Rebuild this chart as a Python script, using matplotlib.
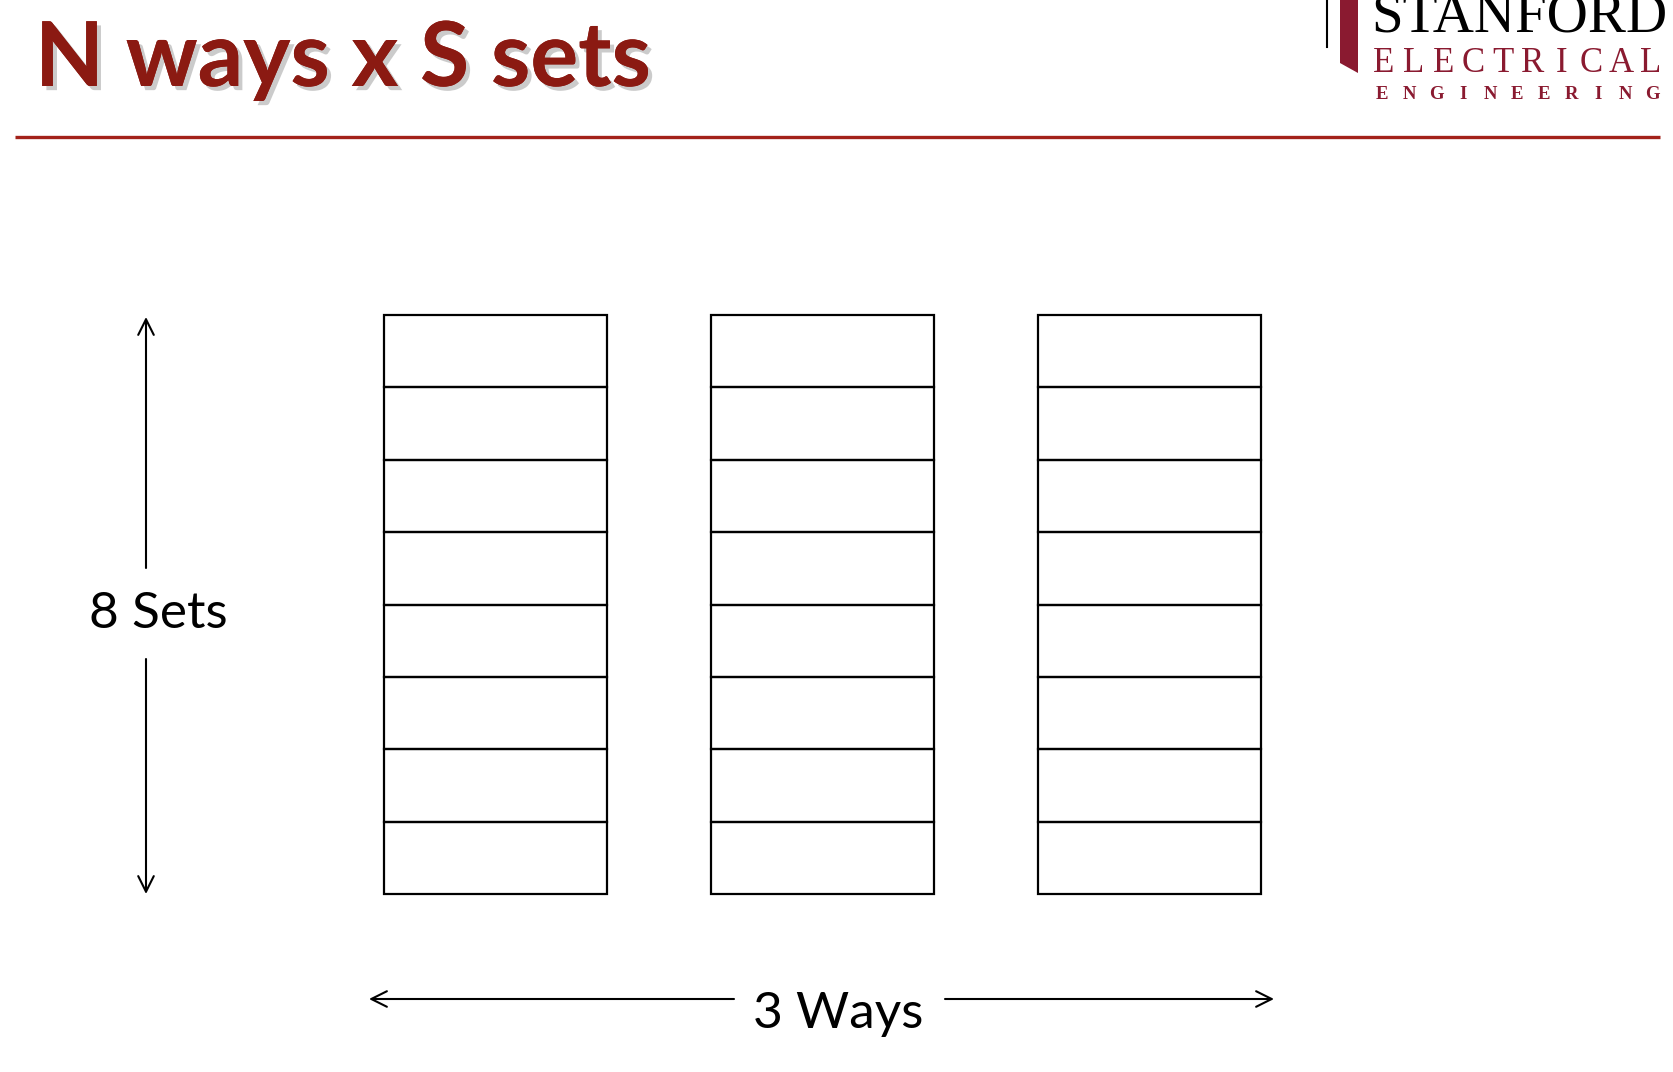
import matplotlib.pyplot as plt
import matplotlib.patheffects as pe
from matplotlib.patches import Rectangle, Polygon

# diagram content
title = "N ways x S sets"
n_ways = 3
n_sets = 8
logo_words = ["STANFORD", "ELECTRICAL", "ENGINEERING"]

W, H = 1674, 1072
fig = plt.figure(figsize=(W / 100, H / 100), dpi=100)
ax = fig.add_axes([0, 0, 1, 1])
ax.set_xlim(0, W)
ax.set_ylim(H, 0)
ax.axis("off")

red = "#8b1a12"
cardinal = "#8a1a30"

# title with soft shadow
ax.text(35, 86, title, fontsize=64.5, fontweight="bold", family="Lato", color=red,
        ha="left", va="baseline",
        path_effects=[pe.withSimplePatchShadow(offset=(3, -3), shadow_rgbFace="#999999", alpha=0.5),
                      pe.Normal()])
ax.plot([15, 1660], [137, 137], color="#a3221a", lw=2.4, solid_capstyle="butt")

# logo
ax.plot([1327, 1327], [0, 47], color="black", lw=1.5)
ax.add_patch(Polygon([[1340, 0], [1358, 0], [1358, 73], [1340, 63]], closed=True,
                     facecolor=cardinal, edgecolor="none"))
ax.text(1371, 31, logo_words[0], fontsize=41, family="Liberation Serif", color="black",
        ha="left", va="baseline")


def spaced(word, x0, x1, y, size, color, weight="normal"):
    step = (x1 - x0) / (len(word) - 1)
    for i, ch in enumerate(word):
        ax.text(x0 + i * step, y, ch, fontsize=size, family="Liberation Serif",
                color=color, ha="center", va="baseline", fontweight=weight)


spaced(logo_words[1], 1384, 1651, 72, 25, cardinal)
spaced(logo_words[2], 1382, 1652, 99, 13.5, cardinal, "bold")

# cache ways x sets grid
x_start, col_w, col_gap = 384, 223, 104
y_top, y_bot = 315, 894
row_h = (y_bot - y_top) / n_sets
for w in range(n_ways):
    x = x_start + w * (col_w + col_gap)
    for s in range(n_sets):
        ax.add_patch(Rectangle((x, y_top + s * row_h), col_w, row_h, fill=False,
                               edgecolor="black", lw=1.6))

arrow = dict(arrowstyle="->", color="black", lw=1.5, mutation_scale=28, shrinkA=0, shrinkB=0)

# sets arrow (vertical)
ax_x = 146
ax.annotate("", xy=(ax_x, y_top + 2), xytext=(ax_x, 568), arrowprops=arrow)
ax.annotate("", xy=(ax_x, y_bot), xytext=(ax_x, 659), arrowprops=arrow)
ax.text(158, 614, f"{n_sets} Sets", fontsize=37, family="Lato", ha="center", va="center")

# ways arrow (horizontal)
ay = 999
x_end = x_start + n_ways * col_w + (n_ways - 1) * col_gap
ax.annotate("", xy=(x_start - 15, ay), xytext=(734, ay), arrowprops=arrow)
ax.annotate("", xy=(x_end + 13, ay), xytext=(945, ay), arrowprops=arrow)
ax.text(838, 1014, f"{n_ways} Ways", fontsize=37, family="Lato", ha="center", va="center")

fig.savefig("out.png", dpi=100, facecolor="white")
